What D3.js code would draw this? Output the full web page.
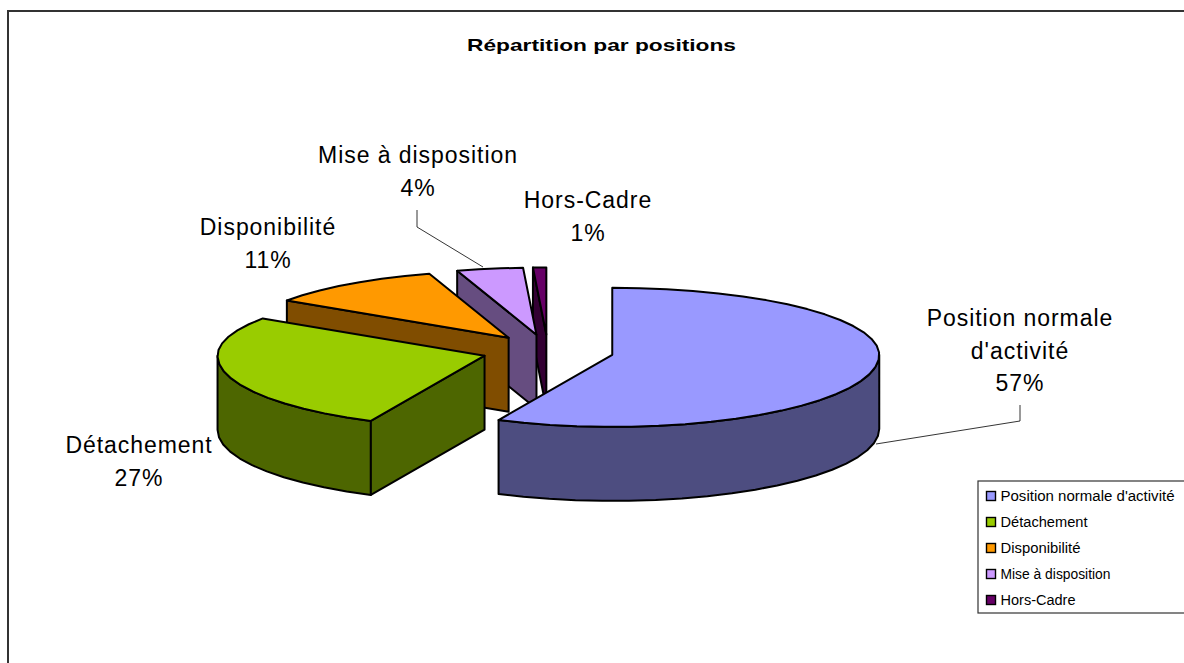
<!DOCTYPE html>
<html>
<head>
<meta charset="utf-8">
<script src="https://cdn.jsdelivr.net/npm/d3@7/dist/d3.min.js"></script>
<style>
  html, body { margin: 0; padding: 0; background: #fff; overflow: hidden; }
  svg { display: block; }
  text { font-family: "Liberation Sans", Arial, sans-serif; fill: #000; }
</style>
</head>
<body>
<svg class="chart" width="1184" height="663"></svg>
<script>
// values
var categories = ["Position normale d'activité", "Détachement", "Disponibilité", "Mise à disposition", "Hors-Cadre"];
var values = [57, 27.4, 10.8, 4.0, 0.8];
var colors = ["#9999FF", "#99CC00", "#FF9900", "#CC99FF", "#660066"];
var labelLines = [["Position normale", "d'activité"], ["Détachement"], ["Disponibilité"], ["Mise à disposition"], ["Hors-Cadre"]];
var labelAnchors = [[1020, 326], [139, 453], [268, 235], [418, 163], [588, 208]];
var legendWidths = [174, 87, 80, 110, 75];

var rx = 267, ryBack = 67, ryFront = 72, depth = 74;
var baseX = 548, baseY = 351, explode = 0.2466;

var svg = d3.select(".chart");

// frame runs off the right and bottom of the picture
svg.append("rect")
    .attr("x", 8).attr("y", 11)
    .attr("width", 1300).attr("height", 800)
    .attr("fill", "#fff").attr("stroke", "#333").attr("stroke-width", 2);

svg.append("text")
    .attr("x", 601.5).attr("y", 51)
    .attr("text-anchor", "middle")
    .attr("font-weight", "bold")
    .attr("font-size", 17)
    .attr("textLength", 269)
    .attr("lengthAdjust", "spacingAndGlyphs")
    .text("Répartition par positions");

var pie = d3.pie().sort(null).value(function(d) { return d; });
var arcs = pie(values).map(function(a, i) {
    a.index = i;
    a.mid = (a.startAngle + a.endAngle) / 2;
    a.cx = baseX + explode * rx * Math.sin(a.mid);
    a.cy = baseY - explode * (Math.cos(a.mid) < 0 ? ryFront : ryBack) * Math.cos(a.mid);
    return a;
});

function pt(a, t) {
    var c = Math.cos(t);
    return [a.cx + rx * Math.sin(t), a.cy - (c < 0 ? ryFront : ryBack) * c];
}

function rimAngles(t0, t1) {
    var n = Math.max(1, Math.ceil((t1 - t0) / (Math.PI / 30)));
    return d3.range(n + 1).map(function(i) { return t0 + (t1 - t0) * i / n; });
}

function polyToPath(p) {
    return "M" + p.join("L") + "Z";
}

function shade(c) {
    var r = d3.rgb(c);
    return d3.rgb(r.r / 2, r.g / 2, r.b / 2).formatHex();
}

function addPoly(pts, fill) {
    svg.append("path")
        .attr("d", polyToPath(pts))
        .attr("fill", fill)
        .attr("stroke", "#000")
        .attr("stroke-width", 2)
        .attr("stroke-linejoin", "round");
}

function down(p) { return [p[0], p[1] + depth]; }

function wall(a, t) {
    var c = [a.cx, a.cy], e = pt(a, t);
    addPoly([c, e, down(e), down(c)], shade(colors[a.index]));
}

// painted from the back slice to the front one
arcs.slice().reverse().forEach(function(a) {
    var t0 = Math.max(a.startAngle, Math.PI / 2),
        t1 = Math.min(a.endAngle, 3 * Math.PI / 2);
    if (t1 > t0) {
        var rim = rimAngles(t0, t1).map(function(t) { return pt(a, t); });
        addPoly(rim.concat(rim.slice().reverse().map(down)), shade(colors[a.index]));
    }
    if (Math.sin(a.startAngle) < -1e-6) wall(a, a.startAngle);
    if (Math.sin(a.endAngle) > 1e-6) wall(a, a.endAngle);
    var top = rimAngles(a.startAngle, a.endAngle).map(function(t) { return pt(a, t); });
    addPoly([[a.cx, a.cy]].concat(top), colors[a.index]);
});

// leader lines
var leaders = [
    [[1020, 405], [1020, 421], [876, 444]],
    [[417, 210], [417, 227], [483, 267]]
];
leaders.forEach(function(l) {
    svg.append("path")
        .attr("d", d3.line()(l))
        .attr("fill", "none")
        .attr("stroke", "#000")
        .attr("stroke-width", 0.8);
});

// data labels
categories.forEach(function(c, i) {
    var lines = labelLines[i].concat([Math.round(values[i]) + "%"]);
    var t = svg.append("text")
        .attr("text-anchor", "middle")
        .attr("font-size", 23)
        .attr("letter-spacing", 0.95);
    lines.forEach(function(s, j) {
        t.append("tspan")
            .attr("x", labelAnchors[i][0])
            .attr("y", labelAnchors[i][1] + j * 32.5)
            .text(s);
    });
});

// legend, open on the right where it leaves the picture
svg.append("rect")
    .attr("x", 978).attr("y", 481)
    .attr("width", 260).attr("height", 132)
    .attr("fill", "#fff").attr("stroke", "#333").attr("stroke-width", 1.2);

var legendY = d3.scalePoint().domain(categories).range([496, 600]);
categories.forEach(function(c, i) {
    var y = legendY(c);
    svg.append("rect")
        .attr("x", 986.5).attr("y", y - 4.5)
        .attr("width", 9).attr("height", 9)
        .attr("fill", colors[i])
        .attr("stroke", "#000").attr("stroke-width", 1.4);
    svg.append("text")
        .attr("x", 1000.5).attr("y", y + 5)
        .attr("font-size", 14)
        .attr("textLength", legendWidths[i])
        .attr("lengthAdjust", "spacingAndGlyphs")
        .text(c);
});
</script>
</body>
</html>
